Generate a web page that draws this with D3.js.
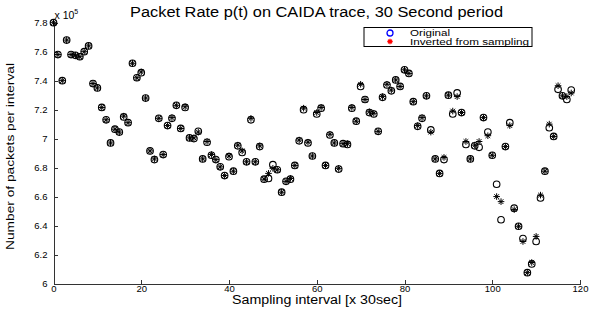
<!DOCTYPE html>
<html>
 <head>
   <title>Packet Rate p(t)</title>
   <script type="text/javascript" src="https://cdn.jsdelivr.net/npm/d3@7"></script>
   <style type="text/css">
		body {
			margin: 0;
			background: white;
		}
		svg {
			display: block;
		}
		text {
			font-family: "Liberation Sans", Arial, Helvetica, sans-serif;
			fill: black;
		}
		.axis path, .axis line {
			stroke: #333;
			stroke-width: 1;
			shape-rendering: crispEdges;
		}
		.axis text {
			font-size: 9.5px;
		}
   </style>
 </head>
 <body>
   <script type="text/javascript">

	// sampling interval index (x 30 sec)
	var intervals = d3.range(0, 119);

	// packets per interval, in units of 10^5
	var original = [
		7.80, 7.58, 7.40, 7.68, 7.58, 7.575, 7.565, 7.60, 7.64, 7.38,
		7.35, 7.215, 7.13, 6.97, 7.065, 7.045, 7.15, 7.11, 7.52, 7.42,
		7.455, 7.28, 6.915, 6.855, 7.14, 6.89, 7.09, 7.14, 7.23, 7.07,
		7.215, 7.005, 7.00, 7.05, 6.86, 6.975, 6.885, 6.855, 6.805, 6.745,
		6.875, 6.775, 6.95, 6.905, 6.84, 7.13, 6.84, 6.945, 6.72, 6.725,
		6.82, 6.785, 6.63, 6.705, 6.72, 6.815, 6.985, 7.20, 6.97, 6.88,
		7.17, 7.21, 6.815, 7.025, 6.97, 6.79, 6.965, 6.96, 7.21, 7.12,
		7.36, 7.27, 7.18, 7.17, 7.05, 7.285, 7.37, 7.33, 7.405, 7.36,
		7.475, 7.45, 7.255, 7.085, 7.14, 7.295, 7.06, 6.86, 6.76, 6.855,
		7.30, 7.17, 7.315, 7.18, 6.96, 6.86, 6.95, 6.94, 7.145, 7.045,
		6.885, 6.685, 6.44, 6.945, 7.11, 6.52, 6.395, 6.31, 6.075, 6.135,
		6.29, 6.59, 6.775, 7.075, 7.015, 7.34, 7.295, 7.27, 7.335
	];

	var inverted = [
		7.80, 7.58, 7.40, 7.68, 7.58, 7.575, 7.565, 7.60, 7.64, 7.38,
		7.35, 7.215, 7.13, 6.97, 7.065, 7.045, 7.155, 7.11, 7.52, 7.42,
		7.46, 7.28, 6.915, 6.86, 7.14, 6.89, 7.09, 7.145, 7.23, 7.07,
		7.22, 7.005, 7.005, 7.045, 6.86, 6.98, 6.89, 6.855, 6.805, 6.745,
		6.88, 6.775, 6.955, 6.915, 6.84, 7.14, 6.84, 6.95, 6.72, 6.76,
		6.795, 6.785, 6.63, 6.705, 6.725, 6.815, 6.99, 7.21, 6.975, 6.88,
		7.18, 7.215, 6.815, 7.03, 6.97, 6.795, 6.965, 6.965, 7.215, 7.12,
		7.375, 7.27, 7.185, 7.175, 7.05, 7.29, 7.375, 7.335, 7.405, 7.36,
		7.475, 7.45, 7.255, 7.09, 7.145, 7.295, 7.045, 6.86, 6.76, 6.87,
		7.30, 7.19, 7.29, 7.18, 6.98, 6.86, 6.955, 6.98, 7.145, 7.02,
		6.885, 6.60, 6.565, 6.945, 7.09, 6.51, 6.395, 6.29, 6.075, 6.145,
		6.325, 6.61, 6.775, 7.10, 7.015, 7.365, 7.295, 7.29, 7.315
	];

	var xTicks = [0, 20, 40, 60, 80, 100, 120];
	var yTicks = [6, 6.2, 6.4, 6.6, 6.8, 7, 7.2, 7.4, 7.6, 7.8];
	var legendLabels = ['Original', 'Inverted from sampling'];
	var legendWidths = [40, 119];

	var W = 595, H = 309;
	var mLeft = 53.5, mRight = 580, mTop = 22.7, mBottom = 283.5;

	var svg = d3.select('body').append('svg')
		.attr('width', W)
		.attr('height', H);

	var x = d3.scaleLinear().domain([0, 120]).range([mLeft, mRight]);
	var y = d3.scaleLinear().domain([6, 7.8]).range([mBottom, mTop]);

	// axes, ticks pointing inward like matlab
	svg.append('g')
		.attr('class', 'axis')
		.attr('transform', 'translate(0,' + mBottom + ')')
		.call(d3.axisBottom(x).tickValues(xTicks).tickSizeInner(-4).tickSizeOuter(0).tickPadding(2));

	svg.append('g')
		.attr('class', 'axis')
		.attr('transform', 'translate(' + mLeft + ',0)')
		.call(d3.axisLeft(y).tickValues(yTicks).tickSizeInner(-4).tickSizeOuter(0).tickPadding(6)
			.tickFormat(function(d) { return +d.toFixed(1); }));

	// exponent label
	var ex = svg.append('text')
		.attr('x', mLeft + 1)
		.attr('y', 19)
		.style('font-size', '10.5px')
		.text('x 10');
	ex.append('tspan')
		.attr('dy', -5)
		.style('font-size', '7px')
		.text('5');

	// title and labels
	svg.append('text')
		.attr('x', 130)
		.attr('y', 17)
		.attr('textLength', 373)
		.attr('lengthAdjust', 'spacingAndGlyphs')
		.style('font-size', '14px')
		.text('Packet Rate p(t) on CAIDA trace, 30 Second period');

	svg.append('text')
		.attr('x', 232)
		.attr('y', 304)
		.attr('textLength', 170)
		.attr('lengthAdjust', 'spacingAndGlyphs')
		.style('font-size', '12.5px')
		.text('Sampling interval [x 30sec]');

	svg.append('text')
		.attr('transform', 'translate(14,' + 250 + ') rotate(-90)')
		.attr('textLength', 187)
		.attr('lengthAdjust', 'spacingAndGlyphs')
		.style('font-size', '11px')
		.text('Number of packets per interval');

	// asterisk marker: + and x overlaid
	function star(r) {
		var d = r * 0.7071;
		return 'M' + (-r) + ',0L' + r + ',0M0,' + (-r) + 'L0,' + r +
			'M' + (-d) + ',' + (-d) + 'L' + d + ',' + d +
			'M' + (-d) + ',' + d + 'L' + d + ',' + (-d);
	}

	var pts = svg.append('g').attr('class', 'points');

	pts.selectAll('circle.orig').data(intervals)
		.enter().append('circle')
		.attr('class', 'orig')
		.attr('cx', function(d) { return x(d); })
		.attr('cy', function(d, i) { return y(original[i]); })
		.attr('r', 3.3)
		.attr('fill', 'none')
		.attr('stroke', 'black')
		.attr('stroke-width', 1.1);

	pts.selectAll('path.inv').data(intervals)
		.enter().append('path')
		.attr('class', 'inv')
		.attr('transform', function(d, i) { return 'translate(' + x(d) + ',' + y(inverted[i]) + ')'; })
		.attr('d', star(3.3))
		.attr('fill', 'none')
		.attr('stroke', 'black')
		.attr('stroke-width', 1);

	// legend
	var lg = svg.append('g').attr('transform', 'translate(364,27.5)');
	lg.append('rect')
		.attr('width', 168)
		.attr('height', 19)
		.attr('fill', 'white')
		.attr('stroke', 'black')
		.attr('stroke-width', 1);
	lg.append('circle')
		.attr('cx', 26).attr('cy', 5.5).attr('r', 3)
		.attr('fill', 'none').attr('stroke', 'blue').attr('stroke-width', 1.3);
	lg.append('path')
		.attr('transform', 'translate(26,14)')
		.attr('d', star(2.7))
		.attr('fill', 'none').attr('stroke', 'red').attr('stroke-width', 1.3);
	lg.selectAll('text.lab').data(legendLabels)
		.enter().append('text')
		.attr('class', 'lab')
		.attr('x', 46)
		.attr('y', function(d, i) { return 8.5 + i * 8.5; })
		.attr('textLength', function(d, i) { return legendWidths[i]; })
		.attr('lengthAdjust', 'spacingAndGlyphs')
		.style('font-size', '8.5px')
		.text(function(d) { return d; });

    </script>
 </body>
</html>
